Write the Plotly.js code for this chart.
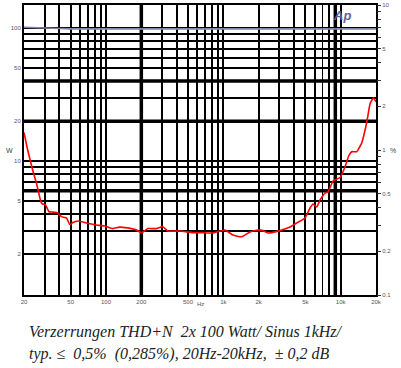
<!DOCTYPE html>
<html>
<head>
<meta charset="utf-8">
<script src="https://cdn.plot.ly/plotly-3.0.1.min.js"></script>
<style>html,body{margin:0;padding:0;background:#fff;}#chart{width:401px;height:368px;}</style>
</head>
<body>
<div id="chart"></div>
<script>
// THD+N (%) vs frequency (Hz)
var thdFreq = [20, 21.5, 23.7, 25.5, 27.6, 28.2, 28.9, 30.5, 32.7, 35.2, 38.8, 41.7, 46.0, 49.1, 52.1, 57.4, 68.2, 82.9, 97.6, 114, 131, 165, 182, 201, 227, 270, 305, 337, 426, 550, 631, 815, 1032, 1207, 1432, 1687, 1972, 2177, 2400, 3040, 3700, 4220, 4970, 5480, 5810, 6250, 6670, 7360, 7800, 8610, 9880, 10900, 11700, 12400, 13700, 15100, 16700, 17800, 19000, 20000];
var thdPct = [1.32, 1.0, 0.728, 0.592, 0.452, 0.431, 0.424, 0.419, 0.375, 0.373, 0.368, 0.347, 0.340, 0.306, 0.316, 0.324, 0.314, 0.304, 0.299, 0.287, 0.294, 0.287, 0.281, 0.268, 0.287, 0.287, 0.296, 0.276, 0.276, 0.269, 0.269, 0.268, 0.281, 0.259, 0.252, 0.272, 0.281, 0.278, 0.268, 0.278, 0.294, 0.314, 0.340, 0.398, 0.424, 0.404, 0.452, 0.505, 0.513, 0.611, 0.646, 0.767, 0.909, 0.973, 0.973, 1.118, 1.56, 2.08, 2.295, 2.15];
// Output power (W) vs frequency (Hz)
var powFreq = [20, 30, 40, 50, 100, 1000, 10000, 20000];
var powW = [101.5, 101, 99.5, 98.8, 98.8, 98.8, 98.8, 98.8];

// Axis ticks / labels
var xTickVals = [20,30,40,50,60,70,80,90,100,200,300,400,500,600,700,800,900,1000,2000,3000,4000,5000,6000,7000,8000,9000,10000,20000];
var xTickText = ['20','','','50','','','','','100','200','','','500','','','','','1k','2k','','','5k','','','','','10k','20k'];
var wTickVals = [1,2,3,4,5,6,7,8,9,10,20,30,40,50,60,70,80,90,100];
var wTickText = ['','2','','','5','','','','','10','20','','','50','','','','','100'];
var pTickVals = [0.1,0.2,0.3,0.4,0.5,0.6,0.7,0.8,0.9,1,2,3,4,5,6,7,8,9,10];
var pTickText = ['0.1','0.2','','','0.5','','','','','1','2','','','5','','','','','10'];
var thickX = [200, 9000];
var thickW = [40, 20, 6];

var caption1 = 'Verzerrungen THD+N  2x 100 Watt/ Sinus 1kHz/';
var caption2 = 'typ. \u2264  0,5%  (0,285%), 20Hz-20kHz,  \u00b1 0,2 dB';

var shapes = [];
thickX.forEach(function(v){
  shapes.push({type:'line', xref:'x', yref:'paper', x0:v, x1:v, y0:0, y1:1, line:{color:'#000', width:3.5}, layer:'below'});
});
thickW.forEach(function(v){
  shapes.push({type:'line', xref:'paper', yref:'y', x0:0, x1:1, y0:v, y1:v, line:{color:'#000', width:3.5}, layer:'below'});
});

var tickFont = {family:'Liberation Sans', size:6, color:'#555'};
var capFont = {family:'"Liberation Serif", serif', size:16, color:'#222', style:'italic'};

var data = [
  {x: powFreq, y: powW, type:'scatter', mode:'lines', yaxis:'y', line:{color:'#8085a6', width:1.6}, hoverinfo:'skip'},
  {x: thdFreq, y: thdPct, type:'scatter', mode:'lines', yaxis:'y2', line:{color:'#ff0000', width:1.6, shape:'spline', smoothing:0.4}, hoverinfo:'skip'}
];

var layout = {
  width:401, height:368,
  margin:{l:24, r:25, t:5, b:73},
  paper_bgcolor:'#fff', plot_bgcolor:'#fff',
  showlegend:false,
  xaxis:{type:'log', range:[Math.log10(20), Math.log10(20000)], tickmode:'array', tickvals:xTickVals, ticktext:xTickText,
         showgrid:true, gridcolor:'#000', gridwidth:1.8, zeroline:false, showline:true, linecolor:'#000', linewidth:2, mirror:true,
         ticks:'', tickfont:tickFont, ticklabelstandoff:0, automargin:false},
  yaxis:{type:'log', range:[-0.006, 2.174], tickmode:'array', tickvals:wTickVals, ticktext:wTickText,
         showgrid:true, gridcolor:'#000', gridwidth:1.8, zeroline:false, showline:true, linecolor:'#000', linewidth:2, mirror:true,
         ticks:'', tickfont:tickFont, ticklabelstandoff:0, automargin:false},
  yaxis2:{type:'log', range:[-1, 1], overlaying:'y', side:'right', tickmode:'array', tickvals:pTickVals, ticktext:pTickText,
          showgrid:false, zeroline:false, showline:false, ticks:'outside', ticklen:4, tickwidth:1, tickcolor:'#333',
          tickfont:tickFont, automargin:false},
  shapes: shapes,
  annotations:[
    {text:'W', xref:'paper', yref:'paper', x:-0.058, y:0.5, yanchor:'middle', showarrow:false, font:{family:'Liberation Sans', size:7, color:'#444'}},
    {text:'%', xref:'paper', yref:'paper', x:1.062, y:0.5, yanchor:'middle', showarrow:false, font:{family:'Liberation Sans', size:7, color:'#444'}},
    {text:'Hz', xref:'paper', yref:'paper', x:0.5, y:-0.03, yanchor:'middle', showarrow:false, font:{family:'Liberation Sans', size:6, color:'#555'}},
    {text:'<b><i>Ap</i></b>', xref:'paper', yref:'paper', x:0.935, y:0.995, yanchor:'top', showarrow:false, font:{family:'Liberation Sans', size:13, color:'#5f6391'}},
    {text:caption1, xref:'paper', yref:'paper', x:0.008, y:-0.128, xanchor:'left', yanchor:'middle', showarrow:false, font:capFont},
    {text:caption2, xref:'paper', yref:'paper', x:0.008, y:-0.204, xanchor:'left', yanchor:'middle', showarrow:false, font:capFont}
  ]
};

Plotly.newPlot('chart', data, layout, {staticPlot:true, displayModeBar:false});
</script>
</body>
</html>
